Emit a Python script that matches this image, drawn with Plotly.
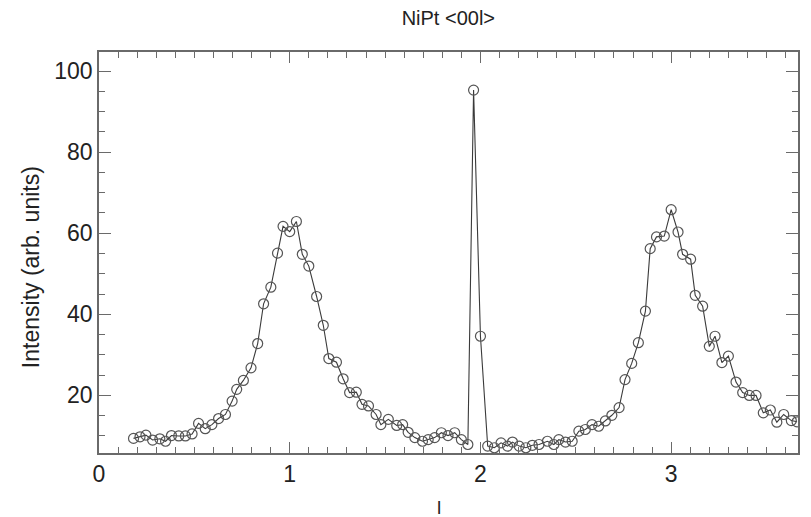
import plotly.graph_objects as go

# Scan positions along <00l> (reciprocal lattice units)
l_values = [
    0.181, 0.215, 0.246, 0.281, 0.319, 0.349, 0.380, 0.418, 0.453, 0.488,
    0.522, 0.557, 0.592, 0.627, 0.663, 0.698, 0.722, 0.757, 0.797, 0.832,
    0.863, 0.901, 0.936, 0.965, 1.000, 1.035, 1.066, 1.100, 1.141, 1.176,
    1.205, 1.245, 1.280, 1.314, 1.349, 1.379, 1.413, 1.453, 1.478, 1.517,
    1.561, 1.592, 1.621, 1.656, 1.696, 1.726, 1.760, 1.795, 1.830, 1.865,
    1.900, 1.934, 1.964, 2.000, 2.038, 2.073, 2.108, 2.142, 2.168, 2.203,
    2.238, 2.272, 2.307, 2.351, 2.385, 2.411, 2.446, 2.481, 2.516, 2.550,
    2.585, 2.620, 2.655, 2.689, 2.727, 2.758, 2.793, 2.828, 2.865, 2.890,
    2.923, 2.964, 3.000, 3.036, 3.060, 3.102, 3.126, 3.165, 3.200, 3.230,
    3.266, 3.300, 3.340, 3.375, 3.410, 3.445, 3.483, 3.520, 3.554, 3.590,
    3.630, 3.660,
]

# Intensity (arb. units)
intensity = [
    9.4, 9.8, 10.2, 9.0, 9.3, 8.7, 10.1, 10.0, 10.0, 10.5,
    13.1, 11.8, 12.8, 14.3, 15.3, 18.6, 21.5, 23.7, 26.8, 32.8,
    42.6, 46.7, 55.1, 61.7, 60.4, 62.9, 54.8, 51.9, 44.4, 37.3,
    29.1, 28.2, 24.1, 20.7, 20.8, 17.8, 17.4, 15.3, 12.8, 14.1,
    12.6, 12.8, 10.9, 9.6, 8.7, 9.1, 9.6, 10.8, 10.1, 10.8,
    9.1, 7.9, 95.3, 34.6, 7.5, 7.1, 8.3, 7.5, 8.5, 7.5,
    7.1, 7.7, 7.9, 8.7, 7.9, 9.1, 8.5, 8.7, 11.2, 11.6,
    12.8, 12.4, 13.7, 15.1, 17.0, 23.9, 27.9, 33.0, 40.8, 56.2,
    59.1, 59.3, 65.8, 60.3, 54.8, 53.6, 44.7, 42.0, 32.1, 34.6,
    28.1, 29.7, 23.3, 20.7, 20.0, 20.0, 15.7, 16.4, 13.4, 15.3,
    13.8, 13.5,
]

x_tickvals = [0, 1, 2, 3]
y_tickvals = [20, 40, 60, 80, 100]

title_text = "NiPt &lt;00l&gt;"
x_title = "l"
y_title = "Intensity (arb. units)"

FONT = "Liberation Sans, Arial, Helvetica, sans-serif"
AXIS_COLOR = "#6a6a6a"
TEXT_COLOR = "#222222"

fig = go.Figure()
fig.add_trace(go.Scatter(
    x=l_values, y=intensity,
    mode="lines+markers",
    line=dict(color="#3a3a3a", width=1.1),
    marker=dict(symbol="circle-open", size=10, color="#555555",
                line=dict(width=1.2, color="#555555")),
    cliponaxis=True,
    showlegend=False,
))

fig.update_layout(
    width=811, height=517,
    margin=dict(l=99, r=11, t=52, b=64),
    paper_bgcolor="white", plot_bgcolor="white",
    font=dict(family=FONT, color=TEXT_COLOR),
    title=dict(text=title_text, x=0.5528, xanchor="center",
               y=0.965, yanchor="middle",
               font=dict(size=20, family=FONT, color=TEXT_COLOR)),
)

fig.add_annotation(
    text=x_title, xref="paper", yref="paper",
    x=0.4864, y=-0.137, xanchor="center", yanchor="middle",
    showarrow=False, font=dict(size=19, family=FONT, color=TEXT_COLOR),
)
fig.add_annotation(
    text=y_title, xref="paper", yref="paper",
    x=-0.097, y=0.464, xanchor="center", yanchor="middle",
    textangle=-90,
    showarrow=False, font=dict(size=23, family=FONT, color=TEXT_COLOR),
)

fig.update_xaxes(
    range=[0, 3.665],
    tickvals=x_tickvals,
    ticktext=[str(v) for v in x_tickvals],
    ticks="inside", ticklen=11, tickwidth=1.3, tickcolor=AXIS_COLOR,
    minor=dict(dtick=0.1, tick0=0, ticks="inside", ticklen=6,
               tickwidth=1, tickcolor=AXIS_COLOR, showgrid=False),
    showline=True, linecolor=AXIS_COLOR, linewidth=1.6, mirror="ticks",
    showgrid=False, zeroline=False,
    tickfont=dict(size=23, family=FONT, color=TEXT_COLOR),
)

fig.update_yaxes(
    range=[5.8, 104.7],
    tickvals=y_tickvals,
    ticktext=[str(v) for v in y_tickvals],
    ticks="inside", ticklen=12, tickwidth=1.3, tickcolor=AXIS_COLOR,
    minor=dict(dtick=5, tick0=0, ticks="inside", ticklen=6,
               tickwidth=1, tickcolor=AXIS_COLOR, showgrid=False),
    showline=True, linecolor=AXIS_COLOR, linewidth=1.6, mirror="ticks",
    showgrid=False, zeroline=False,
    tickfont=dict(size=23, family=FONT, color=TEXT_COLOR),
)

fig.write_html("out.html")
